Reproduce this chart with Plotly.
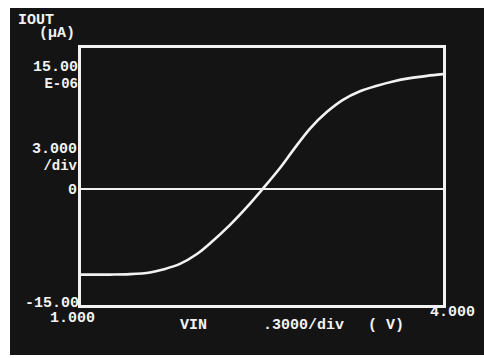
import plotly.graph_objects as go

# Data
vin = [1.000, 1.240, 1.406, 1.572, 1.680, 1.820, 1.961, 2.094, 2.235, 2.376,
       2.508, 2.649, 2.757, 2.898, 3.039, 3.171, 3.312, 3.453, 3.586, 3.727,
       3.867, 4.000]
iout = [-10.0, -10.0, -9.95, -9.75, -9.40, -8.75, -7.60, -6.05, -4.20, -2.10,
        0.05, 2.45, 4.50, 7.05, 9.00, 10.40, 11.40, 12.05, 12.55, 12.93,
        13.20, 13.40]

y_range = [-13.55, 16.45]
x_range = [1.0, 4.0]

W, H = 484, 358
L, R, T, B = 81, 41, 48, 53
PW, PH = W - L - R, H - T - B


def px(x):
    return (x - L) / PW


def py(y):
    return (H - B - y) / PH


BG = "#141414"
FG = "#f2f2f2"
FONT = dict(family="Liberation Mono", size=15, color=FG)
FONT2 = dict(family="Liberation Mono", size=13, color=FG)

fig = go.Figure()
fig.add_trace(go.Scatter(x=vin, y=iout, mode="lines",
                         line=dict(color=FG, width=2.6, shape="spline", smoothing=1.0),
                         hoverinfo="skip", showlegend=False))

shapes = [
    dict(type="rect", xref="paper", yref="paper", x0=px(10), x1=px(490),
         y0=py(355), y1=py(8), fillcolor=BG, line=dict(width=0), layer="below"),
]

labels = [
    ("<b>IOUT</b>", 17, 21, "left", FONT),
    ("<b>(µA)</b>", 38, 34, "left", FONT),
    ("<b><span style='font-size:15px'>15.00</span><br><span style='font-size:14px'>E-06</span></b>", 79, 76, "right", FONT2),
    ("<b><span style='font-size:15px'>3.000</span><br><span style='font-size:14px'>/div</span></b>", 79, 157, "right", FONT2),
    ("<b>0</b>", 78, 190, "right", FONT),
    ("<b>-15.00</b>", 80, 303, "right", FONT),
    ("<b>1.000</b>", 49, 318, "left", FONT),
    ("<b>VIN</b>", 179, 325, "left", FONT),
    ("<b>.3000/div</b>", 262, 325, "left", FONT),
    ("<b>( V)</b>", 367, 325, "left", FONT),
    ("<b>4.000</b>", 429, 312, "left", FONT),
]
annotations = [dict(text=t, x=px(x), y=py(y), xref="paper", yref="paper",
                    xanchor=a, yanchor="middle", align=a,
                    showarrow=False, font=f, borderpad=0)
               for t, x, y, a, f in labels]

fig.update_layout(
    width=W, height=H,
    margin=dict(l=L, r=R, t=T, b=B),
    paper_bgcolor="white",
    plot_bgcolor=BG,
    shapes=shapes,
    annotations=annotations,
    xaxis=dict(range=x_range, showgrid=False, zeroline=False, showticklabels=False,
               ticks="", showline=True, linecolor=FG, linewidth=2.5, mirror=True),
    yaxis=dict(range=y_range, showgrid=False, zeroline=True, zerolinecolor=FG,
               zerolinewidth=2.2, showticklabels=False, ticks="",
               showline=True, linecolor=FG, linewidth=2.5, mirror=True),
)

fig.write_html("out.html", config={"displayModeBar": False})
